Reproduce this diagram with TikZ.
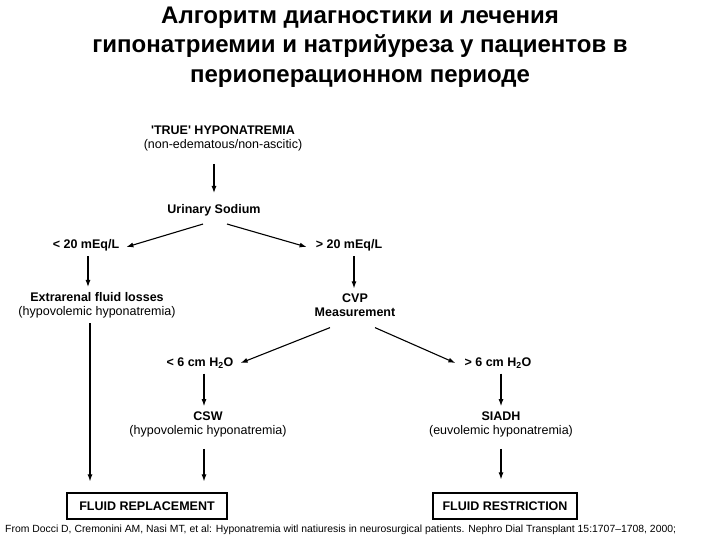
\documentclass[tikz,border=0pt]{standalone}
\usepackage{fontspec}
\setmainfont{Liberation Sans}
\usepackage{tikz}
\usetikzlibrary{positioning,arrows.meta}

\begin{document}
\begin{tikzpicture}[
    x=1pt, y=-1pt,
    lbl/.style={inner sep=5pt, align=center, font=\fontsize{12.5}{14}\selectfont},
    box/.style={rectangle, draw, line width=1.2pt, minimum height=26pt, inner sep=0pt, font=\fontsize{12.5}{14}\selectfont\bfseries},
    arrow/.style={-{Latex[length=7pt,width=5pt]}, line width=1.1pt}
]
\useasboundingbox (0,0) rectangle (720,540);

\node[align=center, font=\fontsize{24}{29.5}\selectfont\bfseries] (title) at (360,47)
    {Алгоритм диагностики и лечения\\гипонатриемии и натрийуреза у пациентов в\\периоперационном периоде};

\node[lbl] (true) at (223,138) {\textbf{\textquotesingle TRUE\textquotesingle{} HYPONATREMIA}\\(non-edematous/non-ascitic)};
\node[lbl] (sodium) at (214,210) {\textbf{Urinary Sodium}};
\node[lbl] (lt20) at (86,245) {\textbf{< 20 mEq/L}};
\node[lbl] (gt20) at (349,245) {\textbf{> 20 mEq/L}};
\node[lbl] (extra) at (97,305) {\textbf{Extrarenal fluid losses}\\(hypovolemic hyponatremia)};
\node[lbl] (cvp) at (355,305) {\textbf{CVP}\\\textbf{Measurement}};
\node[lbl] (lt6) at (200,363) {\textbf{< 6 cm H\textsubscript{2}O}};
\node[lbl] (gt6) at (498,363) {\textbf{> 6 cm H\textsubscript{2}O}};
\node[lbl] (csw) at (208,424) {\textbf{CSW}\\(hypovolemic hyponatremia)};
\node[lbl] (siadh) at (501,424) {\textbf{SIADH}\\(euvolemic hyponatremia)};

\node[box, minimum width=160pt] (replace) at (147,506) {FLUID REPLACEMENT};
\node[box, minimum width=144pt] (restrict) at (505,506) {FLUID RESTRICTION};

\node[anchor=west, inner sep=0pt, font=\fontsize{10.4}{11}\selectfont] (source) at (5,530)
    {From Docci D, Cremonini AM, Nasi MT, et al: Hyponatremia witl natiuresis in neurosurgical patients. Nephro Dial Transplant 15:1707--1708, 2000;};

% arrows
\draw[arrow, shorten <=8pt, shorten >=6pt] (true.south -| sodium.north) -- (sodium.north);
\draw[arrow] ([xshift=-11pt,yshift=-3pt]sodium.south) -- ([xshift=2pt,yshift=-2pt]lt20.east);
\draw[arrow] ([xshift=13pt,yshift=-3pt]sodium.south) -- ([xshift=-4pt,yshift=-2pt]gt20.west);
\draw[arrow] ([xshift=2pt]lt20.south) -- ([xshift=2pt]lt20.south |- extra.north);
\draw[arrow] ([xshift=5pt]gt20.south) -- ([xshift=5pt]gt20.south |- cvp.north);
\draw[arrow] ([xshift=-25pt,yshift=-6pt]cvp.south) -- ([xshift=2pt]lt6.east);
\draw[arrow] ([xshift=20pt,yshift=-6pt]cvp.south) -- ([xshift=-4pt]gt6.west);
\draw[arrow] ([xshift=4pt]lt6.south) -- ([xshift=4pt]lt6.south |- csw.north);
\draw[arrow] (siadh.north |- gt6.south) -- (siadh.north);
\draw[arrow, shorten >=11pt] ([xshift=-7pt]extra.south) -- ([xshift=-7pt]extra.south |- replace.north);
\draw[arrow, shorten <=7pt, shorten >=11pt] ([xshift=-4pt]csw.south) -- ([xshift=-4pt]csw.south |- replace.north);
\draw[arrow, shorten <=7pt, shorten >=13pt] (siadh.south) -- (siadh.south |- restrict.north);

\end{tikzpicture}
\end{document}
